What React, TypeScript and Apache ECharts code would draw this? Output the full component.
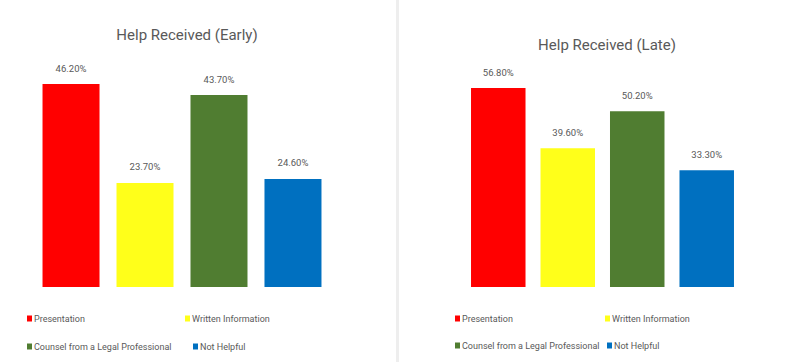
import React, { useEffect, useRef } from "react";
import * as echarts from "echarts";

const seriesNames = ["Presentation", "Written Information", "Counsel from a Legal Professional", "Not Helpful"];
const seriesColors = ["#FF0000", "#FFFF1A", "#507D31", "#0070C0"];
const earlyValues = [46.2, 23.7, 43.7, 24.6];
const lateValues = [56.8, 39.6, 50.2, 33.3];
const titles = ["Help Received (Early)", "Help Received (Late)"];

const FONT = "Roboto, 'Open Sans', sans-serif";
const GRAY = "#595959";

export default function App() {
  const ref = useRef<HTMLDivElement>(null);
  useEffect(() => {
    document.body.style.margin = "0";
    const chart = echarts.init(ref.current!, undefined, { renderer: "svg" });

    const makeSeries = (values: number[], gi: number, barWidth: number, barGap: string) =>
      values.map((v, i) => ({
        type: "bar",
        name: seriesNames[i],
        xAxisIndex: gi,
        yAxisIndex: gi,
        data: [v],
        barWidth,
        barGap,
        itemStyle: { color: seriesColors[i] },
        label: {
          show: true,
          position: "top",
          distance: 11,
          formatter: (p: any) => Number(p.value).toFixed(2) + "%",
          color: GRAY,
          fontSize: 9.5,
          fontFamily: FONT,
        },
      }));

    const legendPos = [
      // left chart
      { name: seriesNames[0], left: 27, top: 314 },
      { name: seriesNames[1], left: 185, top: 314 },
      { name: seriesNames[2], left: 27, top: 342 },
      { name: seriesNames[3], left: 193, top: 342 },
      // right chart
      { name: seriesNames[0], left: 455, top: 314 },
      { name: seriesNames[1], left: 605, top: 314 },
      { name: seriesNames[2], left: 455, top: 341 },
      { name: seriesNames[3], left: 607, top: 341 },
    ];

    chart.setOption({
      animation: false,
      backgroundColor: "#ffffff",
      title: [
        {
          text: titles[0],
          left: 182,
          textAlign: "center",
          top: 22,
          textStyle: { color: GRAY, fontSize: 15, fontWeight: "normal", fontFamily: FONT },
        },
        {
          text: titles[1],
          left: 602,
          textAlign: "center",
          top: 32,
          textStyle: { color: GRAY, fontSize: 15, fontWeight: "normal", fontFamily: FONT },
        },
      ],
      legend: legendPos.map((l) => ({
        data: [l.name],
        left: l.left,
        top: l.top,
        padding: 0,
        icon: "rect",
        itemWidth: 5,
        itemHeight: 6,
        selectedMode: false,
        textStyle: { color: GRAY, fontSize: 9, fontFamily: FONT, padding: [0, 0, 0, -3] },
      })),
      grid: [
        { left: 30, width: 304, top: 287 - 50 * 4.392, height: 50 * 4.392 },
        { left: 452, width: 301, top: 287 - 60 * 3.503, height: 60 * 3.503 },
      ],
      xAxis: [0, 1].map((gi) => ({
        type: "category",
        gridIndex: gi,
        data: [""],
        show: false,
      })),
      yAxis: [
        { type: "value", gridIndex: 0, min: 0, max: 50, show: false, splitLine: { show: false } },
        { type: "value", gridIndex: 1, min: 0, max: 60, show: false, splitLine: { show: false } },
      ],
      series: [
        ...makeSeries(earlyValues, 0, 57, "29.8%"),
        ...makeSeries(lateValues, 1, 54.5, "27.5%"),
      ],
      graphic: [
        {
          type: "rect",
          shape: { x: 396, y: 0, width: 3, height: 362 },
          style: { fill: "#eeeeee" },
          silent: true,
        },
      ],
    });
    return () => chart.dispose();
  }, []);
  return <div ref={ref} style={{ width: 802, height: 362 }} />;
}
